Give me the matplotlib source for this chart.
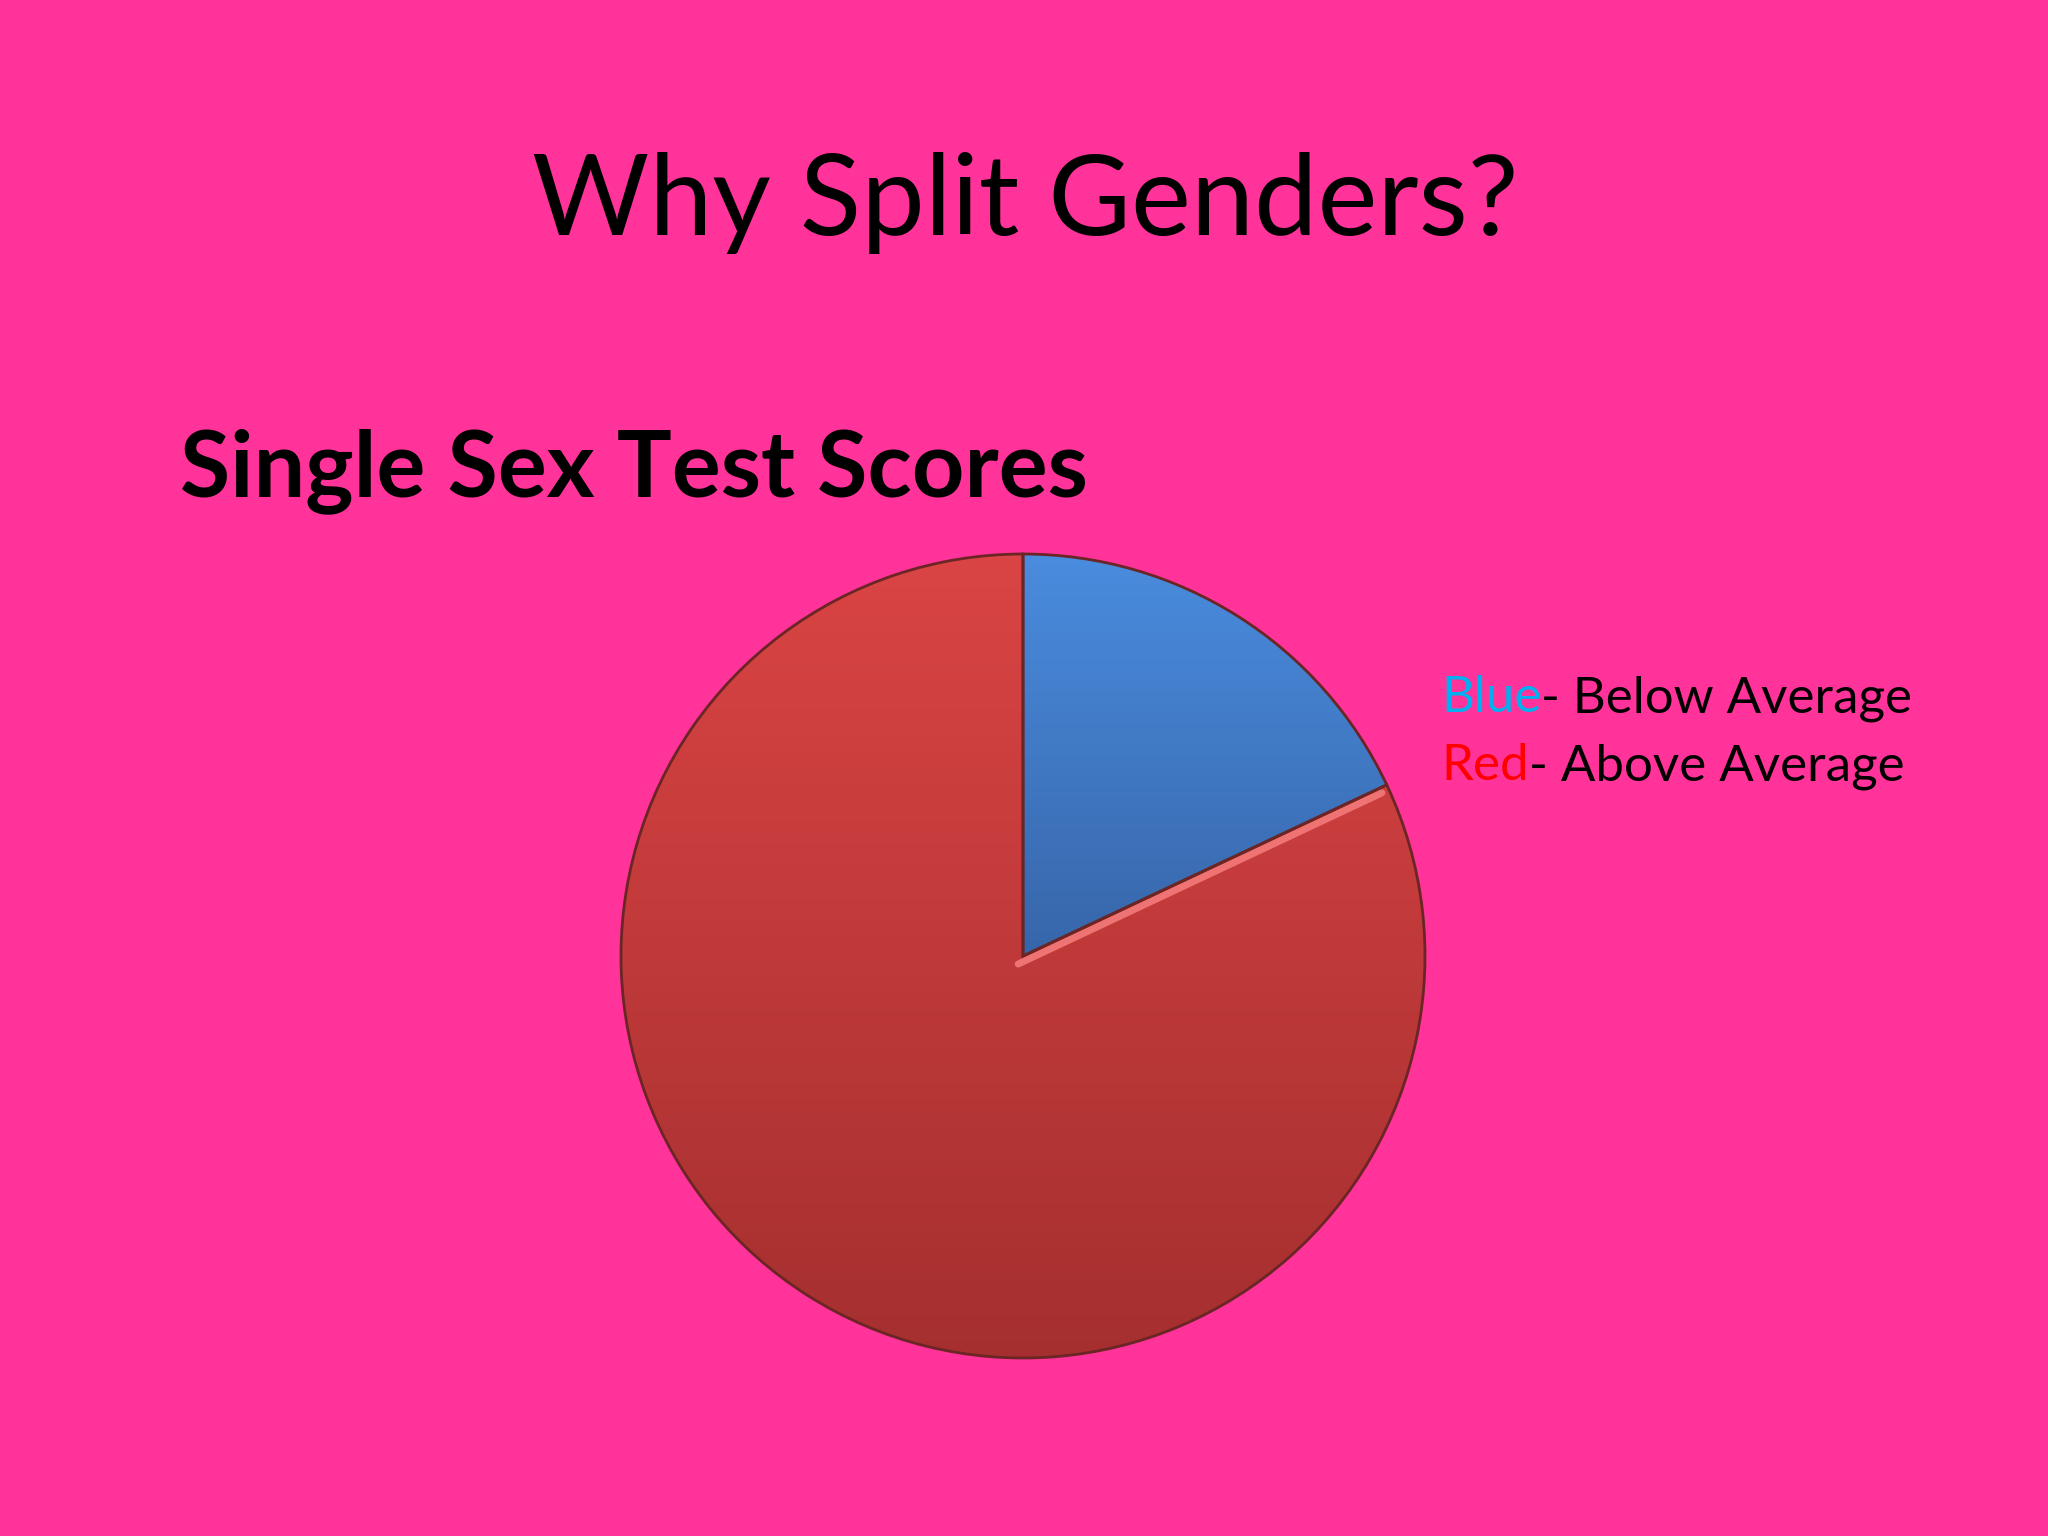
import numpy as np
import matplotlib
matplotlib.use("Agg")
import matplotlib.pyplot as plt
from matplotlib.colors import LinearSegmentedColormap

# slide text
title = "Why Split Genders?"
subtitle = "Single Sex Test Scores"

# pie data (share of students)
categories = ["Below Average", "Above Average"]
shares = [18, 82]
key_names = ["Blue", "Red"]

BG = "#FF3399"
# top / bottom colours of the slice gradients
slice_grad = [("#4A8CDE", "#3766AA"), ("#DA4444", "#A52F2F")]
key_colors = ["#00B0F0", "#FF0000"]

W, H = 2048, 1536
fig = plt.figure(figsize=(W / 100, H / 100), dpi=100, facecolor=BG)
plt.rcParams["font.family"] = ["Lato", "DejaVu Sans"]


def px(x, y):
    """pixel position (from top-left) -> figure fraction"""
    return x / W, 1 - y / H


def fit_width(txt, target):
    r = fig.canvas.get_renderer()
    bb = txt.get_window_extent(r)
    txt.set_fontsize(txt.get_fontsize() * target / bb.width)


# titles
t = fig.text(*px(1025, 235), title, ha="center", va="baseline", fontsize=90, color="black")
s = fig.text(*px(180, 496), subtitle, ha="left", va="baseline", fontsize=70,
             fontweight="bold", color="black")
fig.canvas.draw()
fit_width(t, 986)
fit_width(s, 908)

# pie, centre (1023, 956) px, radius 402 px
cx, cy, rad = 1023, 956, 402
pad = 1.01
ax = fig.add_axes([(cx - rad * pad) / W, (H - cy - rad * pad) / H,
                   2 * rad * pad / W, 2 * rad * pad / H])
ax.set_facecolor("none")
wedges, _ = ax.pie(shares, startangle=90, counterclock=False,
                   colors=[g[1] for g in slice_grad],
                   wedgeprops=dict(edgecolor="#6B2525", linewidth=2.0))

grad = np.linspace(1, 0, 256).reshape(-1, 1)
for w, (top, bot) in zip(wedges, slice_grad):
    ext = w.get_path().get_extents()
    cmap = LinearSegmentedColormap.from_list("g", [bot, top])
    im = ax.imshow(grad, cmap=cmap, extent=(ext.x0, ext.x1, ext.y0, ext.y1),
                   aspect="auto", zorder=w.get_zorder() + 0.1, interpolation="bilinear")
    im.set_clip_path(w)
    w.set_facecolor("none")
    w.set_zorder(w.get_zorder() + 0.3)

# light bevel on the red slice along its edge with the blue slice
red = wedges[1]
ang = np.deg2rad(red.theta2)
edge_x = np.array([0, np.cos(ang)]) - 0.012
edge_y = np.array([0, np.sin(ang)]) - 0.02
ln, = ax.plot(edge_x, edge_y, color="#F47A7A", lw=5, alpha=0.9,
              solid_capstyle="round", zorder=red.get_zorder() - 0.1)
ln.set_clip_path(red)

ax.set_xlim(-pad, pad)
ax.set_ylim(-pad, pad)
ax.set_aspect("equal")
ax.axis("off")

# colour key text
r = fig.canvas.get_renderer()
key_lines = [(key_names[i], "- " + categories[i], key_colors[i]) for i in range(2)]
key_x, key_y0, key_dy = 1441, 712, 68
size = 40
tmp = fig.text(*px(key_x, key_y0), key_lines[0][0] + key_lines[0][1], fontsize=size)
size *= 471 / tmp.get_window_extent(r).width
tmp.remove()

for i, (name, rest, col) in enumerate(key_lines):
    y = key_y0 + i * key_dy
    a = fig.text(*px(key_x, y), name, color=col, fontsize=size, va="baseline", ha="left")
    wa = a.get_window_extent(r).width
    fig.text(*px(key_x + wa, y), rest, color="black", fontsize=size, va="baseline", ha="left")

fig.savefig("out.png", dpi=100, facecolor=BG)
